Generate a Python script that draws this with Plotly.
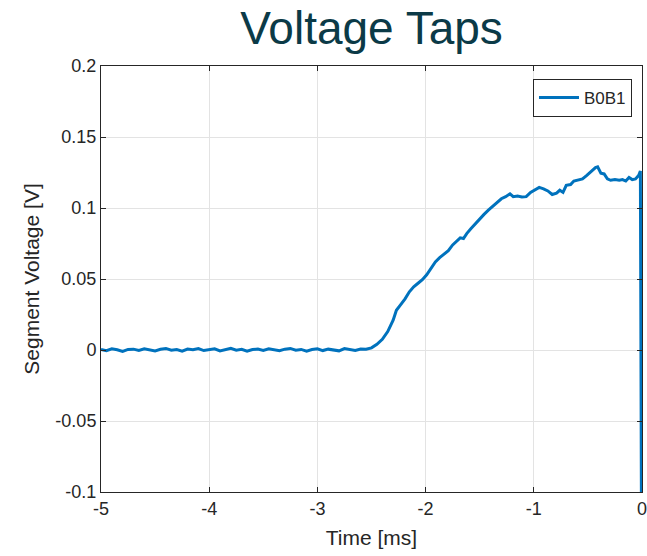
import plotly.graph_objects as go

# Segment voltage B0B1 vs. time before the event
time_flat = [round(-5.00 + 0.05 * i, 2) for i in range(50)]
volt_flat = [
    0.0003, -0.0005, 0.0008, 0.0002, -0.0010, 0.0004, 0.0006, -0.0003, 0.0009, 0.0001,
    -0.0006, 0.0005, 0.0011, -0.0002, 0.0003, -0.0008, 0.0007, 0.0002, 0.0010, -0.0004,
    0.0001, 0.0008, -0.0007, 0.0004, 0.0012, -0.0001, 0.0005, -0.0009, 0.0003, 0.0007,
    -0.0003, 0.0009, 0.0002, -0.0005, 0.0006, 0.0011, -0.0002, 0.0004, -0.0008, 0.0003,
    0.0008, -0.0004, 0.0006, 0.0001, -0.0006, 0.0010, 0.0002, -0.0003, 0.0007, 0.0005,
]
time_rise = [
    -2.50, -2.45, -2.40, -2.35, -2.30, -2.27, -2.23, -2.19, -2.15, -2.11,
    -2.07, -2.03, -1.99, -1.95, -1.91, -1.87, -1.83, -1.79, -1.75, -1.71,
    -1.68, -1.65, -1.62, -1.58, -1.54, -1.50, -1.46, -1.42, -1.38, -1.34,
    -1.30, -1.26, -1.22, -1.19, -1.15, -1.11, -1.07, -1.03, -0.99, -0.95,
    -0.91, -0.87, -0.83, -0.79, -0.76, -0.73, -0.70, -0.66, -0.63, -0.59,
    -0.55, -0.51, -0.47, -0.43, -0.41, -0.38, -0.35, -0.32, -0.29, -0.25,
    -0.21, -0.18, -0.15, -0.12, -0.09, -0.06, -0.03, -0.015, -0.005,
]
volt_rise = [
    0.0015, 0.0040, 0.0075, 0.0130, 0.0210, 0.0280, 0.0320, 0.0360, 0.0410, 0.0445,
    0.0470, 0.0495, 0.0530, 0.0575, 0.0620, 0.0650, 0.0675, 0.0700, 0.0740, 0.0770,
    0.0790, 0.0785, 0.0820, 0.0855, 0.0890, 0.0925, 0.0955, 0.0985, 0.1010, 0.1040,
    0.1065, 0.1080, 0.1100, 0.1080, 0.1085, 0.1078, 0.1080, 0.1110, 0.1130, 0.1145,
    0.1135, 0.1120, 0.1095, 0.1105, 0.1125, 0.1110, 0.1160, 0.1165, 0.1190, 0.1195,
    0.1205, 0.1230, 0.1260, 0.1285, 0.1290, 0.1245, 0.1240, 0.1205, 0.1195, 0.1200,
    0.1195, 0.1200, 0.1190, 0.1215, 0.1200, 0.1205, 0.1230, 0.1260, -0.1200,
]
time_ms = time_flat + time_rise
voltage = volt_flat + volt_rise

x_ticks = [-5, -4, -3, -2, -1, 0]
y_ticks = [-0.1, -0.05, 0, 0.05, 0.1, 0.15, 0.2]
y_tick_text = ["-0.1", "-0.05", "0", "0.05", "0.1", "0.15", "0.2"]

FONT = "Liberation Sans, Arial, sans-serif"
AXIS_COLOR = "#262626"
GRID_COLOR = "#e3e3e3"

fig = go.Figure(
    go.Scatter(
        x=time_ms, y=voltage, mode="lines", name="B0B1",
        line=dict(color="#0072BD", width=3),
    )
)

axis_common = dict(
    showline=True, linecolor=AXIS_COLOR, linewidth=1, mirror="ticks",
    ticks="inside", ticklen=5, tickcolor=AXIS_COLOR, tickwidth=1,
    showgrid=True, gridcolor=GRID_COLOR, gridwidth=1, zeroline=False,
    tickfont=dict(family=FONT, size=18, color=AXIS_COLOR),
    ticklabeloverflow="allow", automargin=False,
)

fig.update_layout(
    width=647, height=556,
    margin=dict(l=101, r=5, t=66, b=64),
    paper_bgcolor="white", plot_bgcolor="white",
    title=dict(
        text="Voltage Taps", x=0.5, xref="paper", xanchor="center",
        y=1 - 28 / 556, yref="container", yanchor="middle",
        font=dict(family=FONT, size=46, color="#0B3A47"),
    ),
    xaxis=dict(
        range=[-5, 0], tickvals=x_ticks, ticktext=[str(v) for v in x_ticks],
        title=dict(text="Time [ms]", font=dict(family=FONT, size=21, color=AXIS_COLOR), standoff=12),
        **axis_common,
    ),
    yaxis=dict(
        range=[-0.1, 0.2], tickvals=y_ticks, ticktext=y_tick_text,
        title=dict(text="Segment Voltage [V]", font=dict(family=FONT, size=21, color=AXIS_COLOR), standoff=10),
        **axis_common,
    ),
    showlegend=True,
    legend=dict(
        x=0.9815, y=0.9695, xanchor="right", yanchor="top",
        bgcolor="white", bordercolor=AXIS_COLOR, borderwidth=1,
        font=dict(family=FONT, size=17, color=AXIS_COLOR),
        tracegroupgap=0, itemwidth=40,
    ),
)

fig.write_html("out.html")
